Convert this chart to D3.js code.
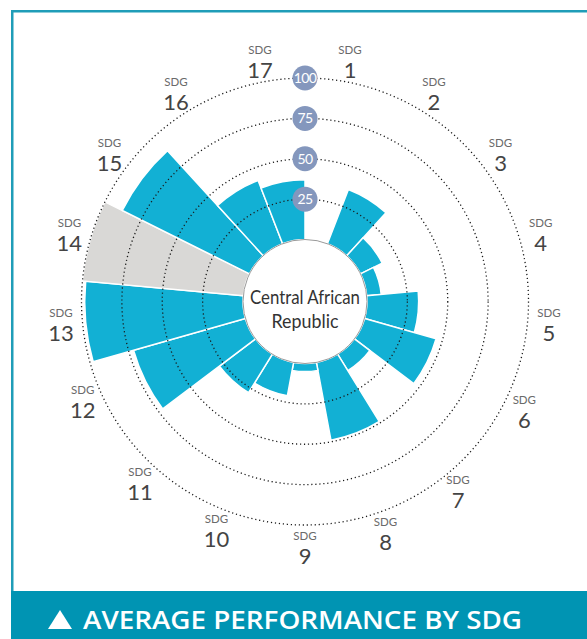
<!DOCTYPE html>
<html>
<head>
<meta charset="utf-8">
<script src="https://cdn.jsdelivr.net/npm/d3@7"></script>
<style>
  body { margin: 0; background: #fff; }
  svg { display: block; font-family: Lato, "Open Sans", sans-serif; }
</style>
</head>
<body>
<svg id="chart" width="587" height="639"></svg>
<script>
// SDG categories and scores (null = not applicable, drawn grey at full length)
const sdgs = ["1","2","3","4","5","6","7","8","9","10","11","12","13","14","15","16","17"]
const scores = [0, 36, 15, 9, 32, 46, 12, 49, 5, 21, 28, 72, 98, null, 88, 42, 37]
const ringTicks = [25, 50, 75, 100]
const countryName = ["Central African", "Republic"]
const titleText = "AVERAGE PERFORMANCE BY SDG"

const svg = d3.select('#chart')
const cx = 305, cy = 301.5
const innerR = 62, outerR = 223.5

// frame
svg.append('rect').attr('x', 11).attr('y', 10).attr('width', 576).attr('height', 2.5).attr('fill', '#1f9db8')
svg.append('rect').attr('x', 11).attr('y', 10).attr('width', 2.5).attr('height', 585).attr('fill', '#1f9db8')

// bottom banner
svg.append('rect').attr('x', 11).attr('y', 591).attr('width', 576).attr('height', 48).attr('fill', '#0094b3')
svg.append('path')
  .attr('d', d3.line()([[48, 629], [72, 629], [60, 610]]) + 'Z')
  .attr('fill', '#fff')
svg.append('text')
  .attr('x', 83).attr('y', 629)
  .attr('fill', '#fff')
  .attr('font-family', '"Open Sans", sans-serif')
  .attr('font-size', 26)
  .attr('font-weight', 600)
  .attr('textLength', 439)
  .attr('lengthAdjust', 'spacingAndGlyphs')
  .text(titleText)

const g = svg.append('g').attr('transform', `translate(${cx},${cy})`)

const x = d3.scaleBand().domain(sdgs).range([0, 2 * Math.PI]).padding(0)
const y = d3.scaleLinear().domain([0, 100]).range([innerR, outerR])

const data = sdgs.map((s, i) => ({ sdg: s, value: scores[i] }))

const arc = d3.arc()
  .innerRadius(innerR)
  .outerRadius(d => y(d.value === null ? 100 : d.value))
  .startAngle(d => x(d.sdg))
  .endAngle(d => x(d.sdg) + x.bandwidth())

g.append('g')
  .selectAll('path')
  .data(data)
  .enter()
  .append('path')
  .attr('d', arc)
  .attr('fill', d => d.value === null ? '#d9d8d6' : '#12b0d4')
  .attr('stroke', '#fff')
  .attr('stroke-width', 1.5)

// dotted rings
g.append('g')
  .selectAll('circle')
  .data(ringTicks)
  .enter()
  .append('circle')
  .attr('r', d => y(d))
  .attr('fill', 'none')
  .attr('stroke', '#1a1a1a')
  .attr('stroke-width', 1.3)
  .attr('stroke-dasharray', '1.2,2.8')

// centre disc
g.append('circle')
  .attr('r', innerR)
  .attr('fill', '#fff')
  .attr('stroke', '#9a9a9a')
  .attr('stroke-width', 1)

const nameWidths = [110, 67]
g.append('g')
  .selectAll('text')
  .data(countryName)
  .enter()
  .append('text')
  .attr('text-anchor', 'middle')
  .attr('y', (d, i) => 2 + i * 24)
  .attr('font-size', 20)
  .attr('fill', '#333')
  .attr('textLength', (d, i) => nameWidths[i])
  .attr('lengthAdjust', 'spacingAndGlyphs')
  .text(d => d)

// ring value badges
const badges = g.append('g')
  .selectAll('g')
  .data(ringTicks)
  .enter()
  .append('g')
  .attr('transform', d => `translate(0,${-y(d)})`)

badges.append('circle')
  .attr('r', 12.5)
  .attr('fill', '#8497bd')

badges.append('text')
  .attr('text-anchor', 'middle')
  .attr('dy', '0.36em')
  .attr('font-size', 14)
  .attr('letter-spacing', -0.6)
  .attr('fill', '#fff')
  .text(d => d)

// SDG labels around the outside (a few hand nudges like the original layout)
const labelR = 245
const nudge = { "7": [-12, 8], "8": [-8, 3], "12": [-3, -10] }
const labels = g.append('g')
  .selectAll('g')
  .data(sdgs)
  .enter()
  .append('g')
  .attr('transform', d => {
    const a = x(d) + x.bandwidth() / 2
    const [dx, dy] = nudge[d] || [0, 0]
    return `translate(${labelR * Math.sin(a) + dx},${-labelR * Math.cos(a) + 1 + dy})`
  })

labels.append('text')
  .attr('text-anchor', 'middle')
  .attr('y', -8)
  .attr('font-size', 11.5)
  .attr('fill', '#6a6a6a')
  .text('SDG')

labels.append('text')
  .attr('text-anchor', 'middle')
  .attr('y', 16)
  .attr('font-size', 22)
  .attr('fill', '#444')
  .text(d => d)
</script>
</body>
</html>
